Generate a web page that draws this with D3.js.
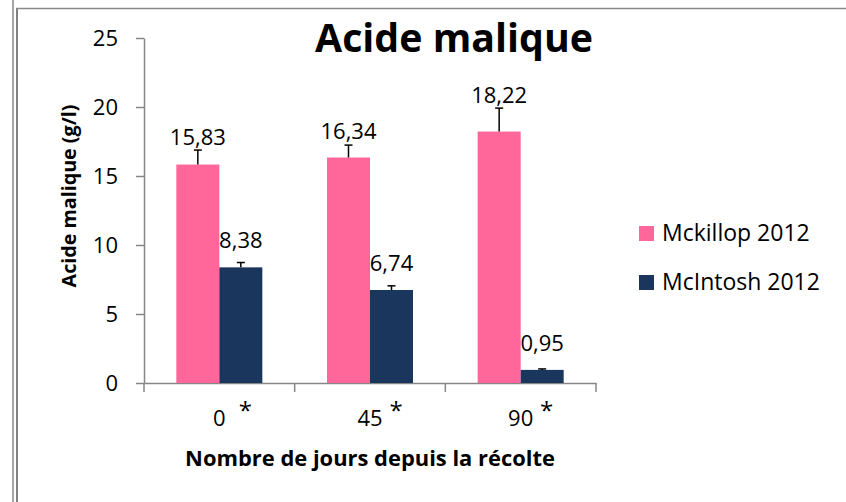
<!DOCTYPE html>
<html>
<head>
<meta charset="utf-8">
<script src="https://cdn.jsdelivr.net/npm/d3@7/dist/d3.min.js"></script>
<style>
  body { margin: 0; background: #fff; }
  svg { display: block; font-family: "Open Sans", sans-serif; }
</style>
</head>
<body>
<svg id="chart" width="846" height="502"></svg>
<script>
// chart data
var categories = ["0", "45", "90"];
var seriesNames = ["Mckillop 2012", "McIntosh 2012"];
var mckillopValues = [15.83, 16.34, 18.22];
var mcintoshValues = [8.38, 6.74, 0.95];
var mckillopErrors = [1.05, 0.9, 1.7];
var mcintoshErrors = [0.35, 0.3, 0.07];
var yTicks = [0, 5, 10, 15, 20, 25];
var colors = ["#FF6699", "#1B365D"];

var svgElement = d3.select("#chart");
var axisColor = "#868686";
var fontName = "'Open Sans', sans-serif";

// shrink/grow a text so it spans the given width
var fitText = function(sel, width){
	var size = +sel.attr("font-size");
	var w = sel.node().getComputedTextLength();
	if (w > 0) sel.attr("font-size", (size * width / w).toFixed(2));
};

// frame bits from the original screenshot
svgElement.append("line").attr("x1", 13).attr("y1", 0).attr("x2", 13).attr("y2", 502)
	.attr("stroke", "#a6a6a6").attr("stroke-width", 2);
svgElement.append("line").attr("x1", 17).attr("y1", 8).attr("x2", 17).attr("y2", 502)
	.attr("stroke", "#808080").attr("stroke-width", 2);
svgElement.append("line").attr("x1", 16).attr("y1", 8.5).attr("x2", 846).attr("y2", 8.5)
	.attr("stroke", "#888888").attr("stroke-width", 1.5);

var plotLeft = 144, plotRight = 596, plotTop = 38, plotBottom = 383;

var y = d3.scaleLinear().domain([0, 25]).range([plotBottom, plotTop]);
var x0 = d3.scaleBand().domain(categories).range([plotLeft, plotRight]).padding(0);
var bw = x0.bandwidth();
var x1 = d3.scaleBand().domain(seriesNames).range([bw / 2 - 43, bw / 2 + 43]).padding(0);

// y axis
var yAxis = svgElement.append("g")
	.attr("transform", "translate(" + plotLeft + ",0)")
	.call(d3.axisLeft(y).tickValues(yTicks).tickSize(8).tickPadding(18).tickSizeOuter(0));
yAxis.select(".domain").attr("stroke", axisColor).attr("stroke-width", 1.5);
yAxis.selectAll(".tick line").attr("stroke", axisColor).attr("stroke-width", 1.5);
yAxis.selectAll(".tick text").attr("font-size", 22).attr("fill", "#000")
	.attr("font-family", fontName);

// x axis
var xAxis = svgElement.append("g")
	.attr("transform", "translate(0," + plotBottom + ")")
	.call(d3.axisBottom(x0).tickSize(0).tickPadding(0).tickSizeOuter(0));
xAxis.select(".domain").attr("stroke", axisColor).attr("stroke-width", 1.5);
xAxis.selectAll(".tick text").attr("font-size", 22).attr("fill", "#000")
	.attr("font-family", fontName)
	.attr("dy", null).attr("y", 43);

// boundary ticks between categories
var boundaries = categories.map(function(c){ return x0(c); }).concat([x0(categories[categories.length - 1]) + bw]);
svgElement.selectAll(".bound").data(boundaries).enter().append("line")
	.attr("x1", function(d){ return d; }).attr("x2", function(d){ return d; })
	.attr("y1", plotBottom).attr("y2", plotBottom + 9)
	.attr("stroke", axisColor).attr("stroke-width", 1.5);

// asterisks next to the category labels
svgElement.selectAll(".star").data(categories).enter().append("text")
	.attr("x", function(d){ return x0(d) + bw / 2 + 26; })
	.attr("y", 419)
	.attr("text-anchor", "middle")
	.attr("font-size", 24)
	.text("*");

// bars
var seriesValues = [mckillopValues, mcintoshValues];
var seriesErrors = [mckillopErrors, mcintoshErrors];
seriesNames.forEach(function(name, s){
	var g = svgElement.append("g");
	categories.forEach(function(cat, i){
		var v = seriesValues[s][i];
		var e = seriesErrors[s][i];
		var bx = x0(cat) + x1(name);
		var cx = bx + x1.bandwidth() / 2;
		g.append("rect")
			.attr("x", bx)
			.attr("y", y(v))
			.attr("width", x1.bandwidth())
			.attr("height", y(0) - y(v))
			.attr("fill", colors[s]);
		// error bar (upper only)
		g.append("line")
			.attr("x1", cx).attr("x2", cx)
			.attr("y1", y(v)).attr("y2", y(v + e))
			.attr("stroke", "#000").attr("stroke-width", 1.5);
		g.append("line")
			.attr("x1", cx - 4).attr("x2", cx + 4)
			.attr("y1", y(v + e)).attr("y2", y(v + e))
			.attr("stroke", "#000").attr("stroke-width", 1.5);
		// value label
		var ly = Math.min(y(v) - 19, y(v + e) - 5);
		g.append("text")
			.attr("x", cx)
			.attr("y", ly)
			.attr("text-anchor", "middle")
			.attr("font-size", 22)
			.text(d3.format(".2f")(v).replace(".", ","));
	});
});

// legend
seriesNames.forEach(function(name, s){
	var ly = 226 + s * 49;
	svgElement.append("rect")
		.attr("x", 639).attr("y", ly)
		.attr("width", 15).attr("height", 15)
		.attr("fill", colors[s]);
	svgElement.append("text")
		.attr("x", 662).attr("y", ly + 15)
		.attr("font-size", 23)
		.text(name);
});

// titles
var title = svgElement.append("text")
	.attr("x", 454).attr("y", 52)
	.attr("text-anchor", "middle")
	.attr("font-size", 36).attr("font-weight", "bold")
	.text("Acide malique");
fitText(title, 278);

var xTitle = svgElement.append("text")
	.attr("x", (plotLeft + plotRight) / 2).attr("y", 466)
	.attr("text-anchor", "middle")
	.attr("font-size", 18).attr("font-weight", "bold")
	.text("Nombre de jours depuis la récolte");
fitText(xTitle, 370);

var yTitle = svgElement.append("text")
	.attr("transform", "translate(76,196) rotate(-90)")
	.attr("text-anchor", "middle")
	.attr("font-size", 18).attr("font-weight", "bold")
	.text("Acide malique (g/l)");
fitText(yTitle, 183);
</script>
</body>
</html>
